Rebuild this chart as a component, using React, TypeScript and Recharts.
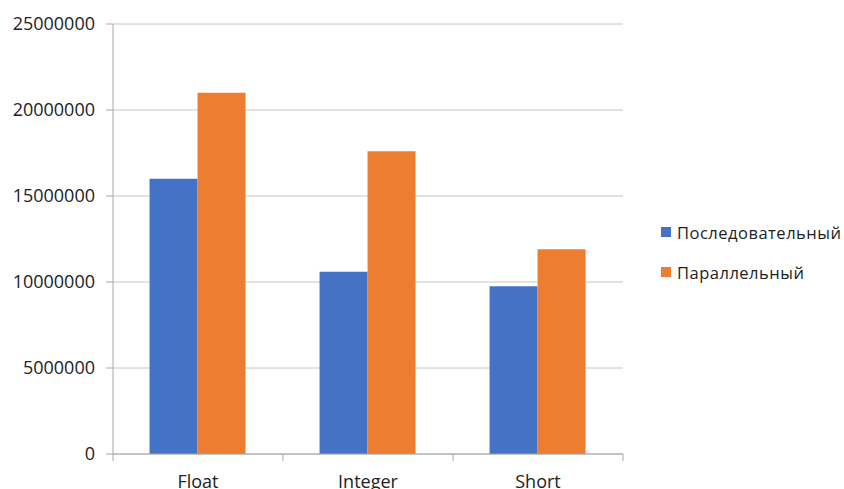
import React from "react";
import { Bar, BarChart, CartesianGrid, XAxis, YAxis } from "recharts";

const CATEGORIES = ["Float", "Integer", "Short"];
const SEQUENTIAL = [16000000, 10600000, 9750000];
const PARALLEL = [21000000, 17600000, 11900000];
const Y_TICKS = [0, 5000000, 10000000, 15000000, 20000000, 25000000];

const SERIES = [
  { key: "seq", name: "Последовательный", color: "#4472C4" },
  { key: "par", name: "Параллельный", color: "#ED7D31" },
];

const data = CATEGORIES.map((name, i) => ({
  name,
  seq: SEQUENTIAL[i],
  par: PARALLEL[i],
}));

const FONT = "'Open Sans', sans-serif";
const WIDTH = 844;
const HEIGHT = 489;
const MARGIN = { top: 24, right: 221, bottom: 0, left: 0 };
const Y_AXIS_W = 113;
const TICK_GAP = 21;
const BAND = (WIDTH - MARGIN.left - MARGIN.right - Y_AXIS_W) / CATEGORIES.length;

// category label plus the small boundary tick marks Excel draws between groups
function CategoryTick(props: any) {
  const { x, y, payload, index } = props;
  const axisY = y - TICK_GAP;
  const last = index === CATEGORIES.length - 1;
  return (
    <g>
      <line x1={x - BAND / 2} x2={x - BAND / 2} y1={axisY} y2={axisY + 7} stroke="#a6a6a6" />
      {last && (
        <line x1={x + BAND / 2} x2={x + BAND / 2} y1={axisY} y2={axisY + 7} stroke="#a6a6a6" />
      )}
      <text
        x={x}
        y={y}
        dy="0.72em"
        textAnchor="middle"
        fill="#222"
        fontSize={18}
        fontFamily={FONT}
      >
        {payload.value}
      </text>
    </g>
  );
}

function LegendBox() {
  return (
    <div
      style={{
        position: "absolute",
        left: 661,
        top: 212,
        fontFamily: FONT,
        fontSize: 16.5,
        letterSpacing: 0.5,
        color: "#222",
      }}
    >
      {SERIES.map((s) => (
        <div key={s.key} style={{ display: "flex", alignItems: "center", height: 40 }}>
          <span
            style={{
              width: 10,
              height: 10,
              background: s.color,
              marginRight: 6,
              display: "inline-block",
            }}
          />
          <span>{s.name}</span>
        </div>
      ))}
    </div>
  );
}

export default function App() {
  return (
    <div style={{ position: "absolute", left: 0, top: 0, width: WIDTH, height: HEIGHT, background: "#fff" }}>
      <BarChart
        width={WIDTH}
        height={HEIGHT}
        data={data}
        margin={MARGIN}
        barGap={0}
        barCategoryGap="21.5%"
      >
        <CartesianGrid vertical={false} stroke="#c4c4c4" />
        <XAxis
          dataKey="name"
          height={35}
          interval={0}
          tickSize={0}
          tickMargin={TICK_GAP}
          axisLine={{ stroke: "#a6a6a6" }}
          tick={<CategoryTick />}
        />
        <YAxis
          width={Y_AXIS_W}
          domain={[0, 25000000]}
          ticks={Y_TICKS}
          interval={0}
          tickSize={7}
          tickMargin={11}
          axisLine={{ stroke: "#a6a6a6" }}
          tickLine={{ stroke: "#a6a6a6" }}
          tick={{ fill: "#222", fontSize: 18, fontFamily: FONT }}
        />
        {SERIES.map((s) => (
          <Bar
            key={s.key}
            dataKey={s.key}
            name={s.name}
            fill={s.color}
            isAnimationActive={false}
          />
        ))}
      </BarChart>
      <LegendBox />
    </div>
  );
}
